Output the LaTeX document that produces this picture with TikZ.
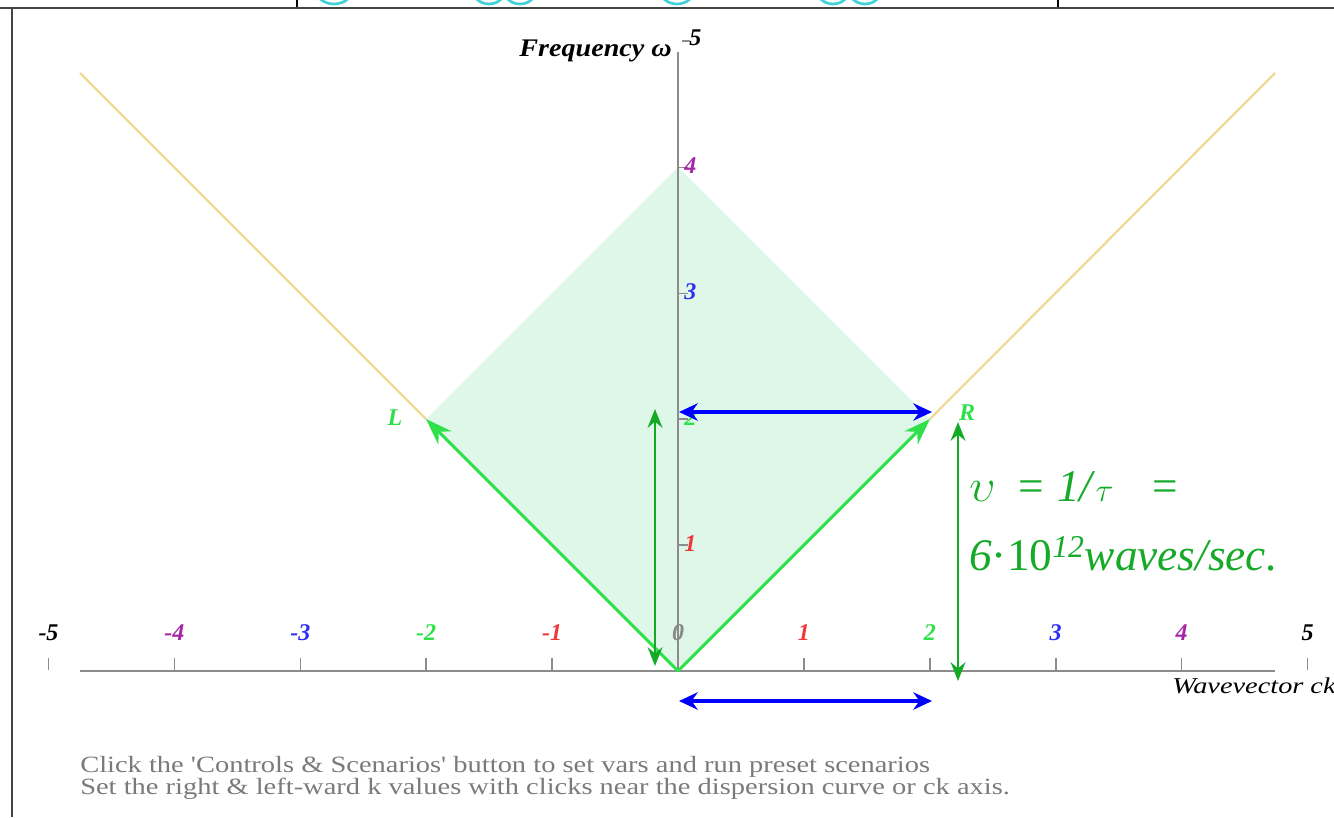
\documentclass[tikz,border=0pt]{standalone}
\usepackage{fontspec}
\setmainfont{Liberation Serif}
\usetikzlibrary{arrows.meta}
\definecolor{axisgray}{HTML}{8C8C8C}
\definecolor{diafill}{HTML}{DFF7E8}
\definecolor{brightgreen}{HTML}{2EE04A}
\definecolor{darkgreen}{HTML}{14AA26}
\definecolor{txtgreen}{HTML}{16AA28}
\definecolor{lnyellow}{HTML}{F0D88E}
\definecolor{lblpurple}{HTML}{A626A8}
\definecolor{lblblue}{HTML}{3030F0}
\definecolor{lblgreen}{HTML}{2EE04A}
\definecolor{lblred}{HTML}{F03838}
\definecolor{lblgray}{HTML}{888888}
\definecolor{notegray}{HTML}{7A7A7A}
\definecolor{framecol}{HTML}{444444}
\definecolor{cyanfrag}{HTML}{40D0D8}
\tikzset{
  axisline/.style={draw=axisgray, line width=1.6pt},
  tickline/.style={draw=axisgray, line width=1.2pt},
  displine/.style={draw=lnyellow, line width=1.6pt},
  kvec/.style={draw=brightgreen, line width=2.2pt, -{Stealth[length=20pt,width=14pt]}},
  freqarrow/.style={draw=darkgreen, line width=2.2pt, {Stealth[length=14pt,width=11pt]}-{Stealth[length=14pt,width=11pt]}},
  kdiff/.style={draw=blue, line width=2.6pt, {Stealth[length=14pt,width=13pt]}-{Stealth[length=14pt,width=13pt]}},
  axlabel/.style={font=\fontsize{18}{18}\selectfont\bfseries\itshape, inner sep=0pt},
  note/.style={font=\fontsize{17.5}{18}\selectfont, text=notegray, anchor=base west, inner sep=0pt},
  eqtext/.style={text=txtgreen, anchor=base west, inner sep=0pt, font=\fontsize{34}{34}\selectfont},
}
\begin{document}
\begin{tikzpicture}[x=0.75pt,y=-0.75pt]
\useasboundingbox (0,0) rectangle (1334,817);
\clip (0,0) rectangle (1334,817);
% frame fragments
\draw[cyanfrag, line width=2pt] (334,-12) ellipse (19 and 16);
\draw[cyanfrag, line width=2pt] (489,-12) ellipse (17 and 16);
\draw[cyanfrag, line width=2pt] (520,-12) ellipse (17 and 16);
\draw[cyanfrag, line width=2pt] (677,-12) ellipse (18 and 16);
\draw[cyanfrag, line width=2pt] (833,-12) ellipse (17 and 16);
\draw[cyanfrag, line width=2pt] (865,-12) ellipse (17 and 16);
\fill[white] (0,6) rectangle (1334,10);
\draw[black, line width=1pt] (297,0) -- (297,8);
\draw[black, line width=1pt] (1058,0) -- (1058,8);
\draw[framecol, line width=2.2pt] (0,8) -- (1334,8);
\draw[framecol, line width=1.2pt] (12,8) -- (12,817);

% key coordinates
\coordinate (O) at (678,671);
\coordinate (R) at (930,419);
\coordinate (L) at (426,419);
\coordinate (T) at (678,167);
\coordinate (YL) at (80,73);
\coordinate (YR) at (1275,73);
\coordinate (AxL) at (80,671);
\coordinate (AxR) at (1275,671);
\coordinate (AxT) at (678,52);

% shaded diamond
\fill[diafill] (O) -- (R) -- (T) -- (L) -- cycle;

% dispersion lines
\draw[displine] (L) -- (YL);
\draw[displine] (R) -- (YR);

% axes
\draw[axisline] (AxL) -- (AxR);
\draw[axisline] (O) -- (AxT);

% x ticks and labels
\foreach \k/\c in {-5/black,-4/lblpurple,-3/lblblue,-2/lblgreen,-1/lblred,0/lblgray,1/lblred,2/lblgreen,3/lblblue,4/lblpurple,5/black}{
  \pgfmathsetmacro{\xx}{678+125.9*\k}
  \ifnum\k=0\else
    \draw[tickline] (\xx,658) -- (\xx,670);
  \fi
  \node[axlabel, text=\c] (xl\k) at (\xx,633) {\k};
}
% y ticks and labels
\foreach \w/\c in {1/lblred,2/lblgreen,3/lblblue,4/lblpurple}{
  \pgfmathsetmacro{\yy}{671-125.9*\w}
  \draw[tickline] (678,\yy) -- (688,\yy);
  \node[axlabel, text=\c, anchor=west] (yl\w) at (684,\yy-2) {\w};
}
\draw[tickline] (682,41) -- (690,41);
\node[axlabel, text=black, anchor=west] (yl5) at (689,38) {5};

% axis titles
\node[font=\fontsize{19}{19}\selectfont\bfseries\itshape, anchor=base east, inner sep=0pt] (ftitle) at (672,57) {\scalebox{1.11}[1]{Frequency ω}};
\node[font=\fontsize{17}{17}\selectfont\itshape, anchor=base west, inner sep=0pt] (ktitle) at (1172,693) {\scalebox{1.25}[1]{Wavevector ck}};

% L, R labels
\node[axlabel, text=brightgreen] (Llab) at (395,418) {L};
\node[axlabel, text=brightgreen] (Rlab) at (967,413) {R};

% wave vectors
\draw[kvec] (O) -- (R);
\draw[kvec] (O) -- (L);

% frequency arrows
\coordinate (F1t) at (655,409);
\coordinate (F1b) at (655,666);
\coordinate (F2t) at (958,422);
\coordinate (F2b) at (958,681);
\draw[freqarrow] (F1t) -- (F1b);
\draw[freqarrow] (F2t) -- (F2b);

% k difference arrows
\coordinate (B1l) at (679,412);
\coordinate (B1r) at (932,412);
\coordinate (B2l) at (679,701);
\coordinate (B2r) at (932,701);
\draw[kdiff] (B1l) -- (B1r);
\draw[kdiff] (B2l) -- (B2r);

% equation text
\node[eqtext] (eq1) at (969,501)
  {\scalebox{1.4}{$\upsilon$}\hspace{17pt}=\hspace{10pt}\textit{1/}$\tau$\hspace{29pt}=};
\node[eqtext] (eq2) at (969,570)
  {\textit{6}·10\textsuperscript{\textit{12}}\textit{waves/sec.}};

% notes
\node[note] (n1) at (80,772) {\scalebox{1.22}[1]{Click the \textquotesingle Controls \& Scenarios\textquotesingle{} button to set vars and run preset scenarios}};
\node[note] (n2) at (80,794) {\scalebox{1.22}[1]{Set the right \& left-ward k values with clicks near the dispersion curve or ck axis.}};
\end{tikzpicture}
\end{document}
